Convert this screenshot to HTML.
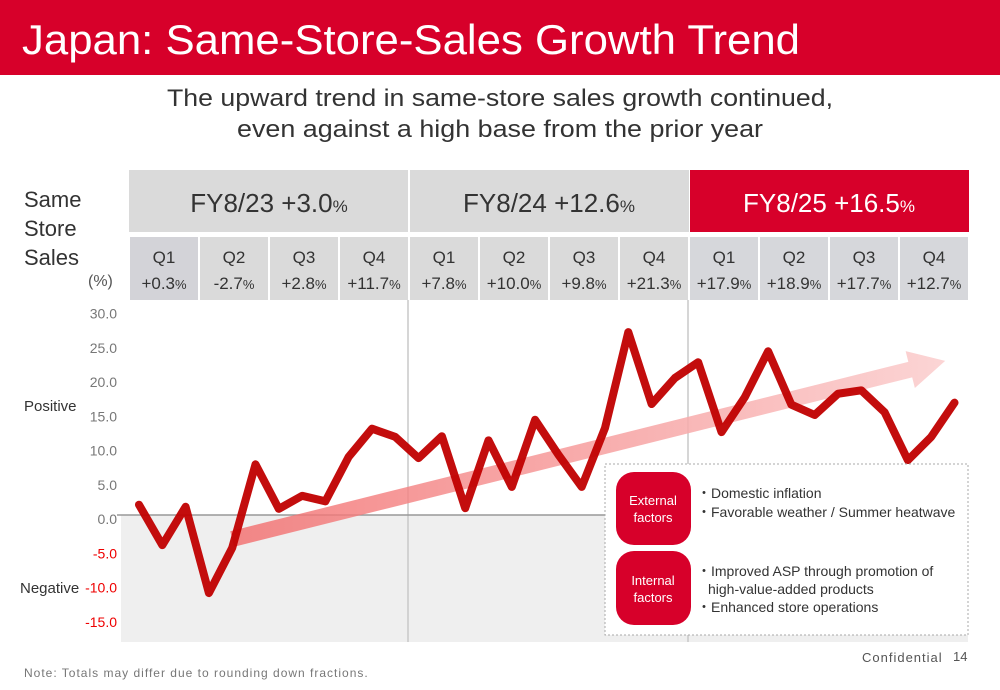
<!DOCTYPE html>
<html><head><meta charset="utf-8">
<style>
body{margin:0;width:1000px;height:685px;overflow:hidden;background:#fff;font-family:"Liberation Sans",sans-serif;}
svg text{font-family:"Liberation Sans",sans-serif;}
</style></head>
<body>
<svg width="1000" height="685" viewBox="0 0 1000 685">
<defs>
<linearGradient id="ag" x1="0" x2="1" y1="0" y2="0">
<stop offset="0" stop-color="#f26b6b" stop-opacity="0.8"/>
<stop offset="1" stop-color="#fbd0d0" stop-opacity="0.9"/>
</linearGradient>
</defs>
<rect x="0" y="0" width="1000" height="75" fill="#d7002a"/>
<text x="22" y="54" font-size="42" fill="#fff" textLength="778" lengthAdjust="spacingAndGlyphs">Japan: Same-Store-Sales Growth Trend</text>
<text x="500" y="106" font-size="24" fill="#333" text-anchor="middle" textLength="666" lengthAdjust="spacingAndGlyphs">The upward trend in same-store sales growth continued,</text>
<text x="500" y="137" font-size="24" fill="#333" text-anchor="middle" textLength="526" lengthAdjust="spacingAndGlyphs">even against a high base from the prior year</text>

<text x="24" y="207" font-size="22" fill="#333">Same</text>
<text x="24" y="236" font-size="22" fill="#333">Store</text>
<text x="24" y="265" font-size="22" fill="#333">Sales</text>
<text x="88" y="286" font-size="16" fill="#555">(%)</text>

<g id="header"></g>
<g id="plot"></g>

<g>
<rect x="605" y="464" width="363" height="171" fill="#fff" stroke="#aaa" stroke-dasharray="2,2"/>
<rect x="616" y="472" width="75" height="73" rx="18" fill="#d7002a"/>
<text x="653" y="505" font-size="13" fill="#fff" text-anchor="middle">External</text>
<text x="653" y="522" font-size="13" fill="#fff" text-anchor="middle">factors</text>
<rect x="616" y="551" width="75" height="74" rx="18" fill="#d7002a"/>
<text x="653" y="585" font-size="13" fill="#fff" text-anchor="middle">Internal</text>
<text x="653" y="602" font-size="13" fill="#fff" text-anchor="middle">factors</text>
<text x="697" y="498" font-size="14" fill="#333">・Domestic inflation</text>
<text x="697" y="517" font-size="14" fill="#333">・Favorable weather / Summer heatwave</text>
<text x="697" y="576" font-size="14" fill="#333">・Improved ASP through promotion of</text>
<text x="708" y="594" font-size="14" fill="#333">high-value-added products</text>
<text x="697" y="612" font-size="14" fill="#333">・Enhanced store operations</text>
</g>

<text x="24" y="677" font-size="12" fill="#777" letter-spacing="1">Note: Totals may differ due to rounding down fractions.</text>
<text x="862" y="662" font-size="13" fill="#555" letter-spacing="1">Confidential</text>
<text x="953" y="661" font-size="13" fill="#555">14</text>
</svg>
<script>
const fyLabels=["FY8/23 +3.0","FY8/24 +12.6","FY8/25 +16.5"];
const qNames=["Q1","Q2","Q3","Q4","Q1","Q2","Q3","Q4","Q1","Q2","Q3","Q4"];
const qValues=["+0.3","-2.7","+2.8","+11.7","+7.8","+10.0","+9.8","+21.3","+17.9","+18.9","+17.7","+12.7"];
const yTicks=[30,25,20,15,10,5,0,-5,-10,-15];
const monthly=[1.5,-4.4,1.2,-11.4,-4.8,7.4,0.9,2.8,2.0,8.5,12.6,11.4,8.3,11.5,1.0,10.9,4.1,13.9,8.8,4.1,12.7,26.7,16.2,20.0,22.3,12.1,17.2,23.9,16.1,14.6,17.7,18.2,15.0,8.0,11.4,16.4];
const trendStart=[4,-3.5];
const trendEnd=[34.6,22.5];

const NS="http://www.w3.org/2000/svg";
function mk(tag,attrs,parent,text){const e=document.createElementNS(NS,tag);for(const k in attrs)e.setAttribute(k,attrs[k]);if(text!==undefined)e.textContent=text;parent.appendChild(e);return e;}
const xq=i=>129+i*70;
const yv=v=>515-v*6.85;
const xm=i=>139+i*23.3;

const hdr=document.getElementById('header');
fyLabels.forEach((l,i)=>{
  const r=mk('rect',{x:xq(i*4)+(i?1:0),y:170,width:279,height:62,fill:i==2?'#d7002a':'#dadada'},hdr);
  
  
  const t=mk('text',{x:xq(i*4)+140,y:212,'font-size':26,'text-anchor':'middle',fill:i==2?'#fff':'#333'},hdr);
  
  
  t.textContent=l;
  mk('tspan',{'font-size':17},t,'%');
});
qNames.forEach((q,i)=>{
  const r=mk('rect',{x:xq(i)+1,y:237,width:68,height:63,fill:i>=8?'#d6d7db':(i==0?'#d3d3d8':'#dadada')},hdr);
  
  
  const t=mk('text',{x:xq(i)+35,y:263,'font-size':17,'text-anchor':'middle',fill:'#333'},hdr,q);
  
  
  const v=mk('text',{x:xq(i)+35,y:289,'font-size':17,'text-anchor':'middle',fill:'#333'},hdr);
  
  
  v.textContent=qValues[i];
  mk('tspan',{'font-size':13},v,'%');
});

const p=document.getElementById('plot');
const neg=mk('rect',{x:121,y:yv(0),width:847,height:642-yv(0),fill:'#efefef'},p);


[408,688].forEach(x=>{const l=mk('line',{x1:x,x2:x,y1:300,y2:642,stroke:'#c8c8c8','stroke-width':1.5},p);

});
const z=mk('line',{x1:117,x2:968,y1:yv(0),y2:yv(0),stroke:'#999','stroke-width':1.5},p);


yTicks.forEach(v=>{const t=mk('text',{x:117,y:yv(v)+9,'font-size':14,'text-anchor':'end',fill:v<0?'#e00':'#777'},p,v.toFixed(1));

});
const pl=mk('text',{x:24,y:411,'font-size':15,fill:'#333'},p,'Positive');


const nl=mk('text',{x:20,y:593,'font-size':15,fill:'#333'},p,'Negative');



const x1=xm(trendStart[0]),y1=yv(trendStart[1]),x2=xm(trendEnd[0]),y2=yv(trendEnd[1]);
const ang=Math.atan2(y2-y1,x2-x1),c=Math.cos(ang),s=Math.sin(ang);
const hw=8,hh=19,hl=36;
const bx=x2-hl*c,by=y2-hl*s;
const pts=[[x1+hw*s,y1-hw*c],[bx+hw*s,by-hw*c],[bx+hh*s,by-hh*c],[x2,y2],[bx-hh*s,by+hh*c],[bx-hw*s,by+hw*c],[x1-hw*s,y1+hw*c]];
const ar=mk('polygon',{points:pts.map(q=>q.join(',')).join(' '),fill:'url(#ag)'},p);



const line=mk('polyline',{points:monthly.map((v,i)=>xm(i)+','+yv(v)).join(' '),fill:'none',stroke:'#c00000','stroke-width':8,'stroke-linejoin':'round','stroke-linecap':'round','stroke-opacity':0.95},p);


</script>
</body></html>
